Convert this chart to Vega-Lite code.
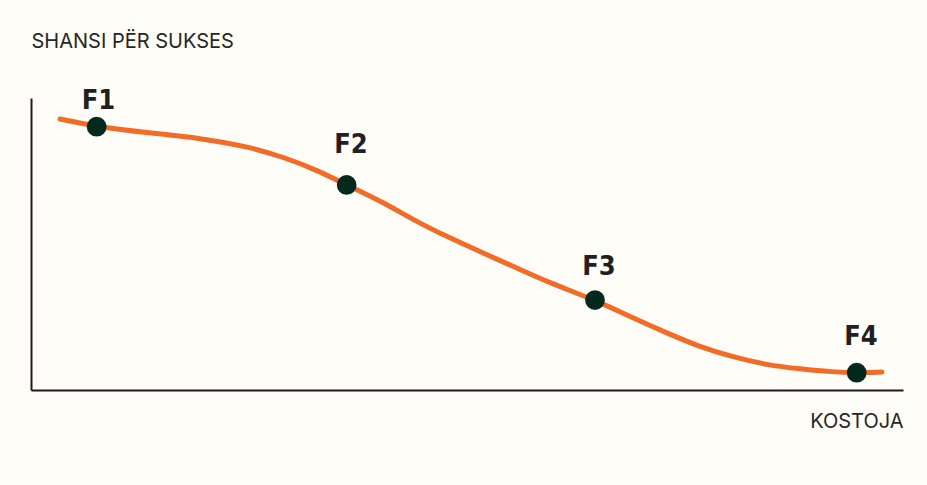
{
  "$schema": "https://vega.github.io/schema/vega-lite/v6.json",
  "width": 872,
  "height": 292,
  "autosize": {"type": "none"},
  "padding": {"left": 31, "top": 98, "right": 24, "bottom": 95},
  "background": "#fefdf8",
  "config": {
    "view": {"stroke": null},
    "axis": {
      "domain": true,
      "domainColor": "#1c1c1c",
      "domainWidth": 2,
      "ticks": false,
      "labels": false,
      "grid": false,
      "titleFont": "Inter",
      "titleFontSize": 20,
      "titleFontWeight": "normal",
      "titleColor": "#262626",
      "titleBaseline": "alphabetic"
    }
  },
  "datasets": {
    "curve": [
      {"cost": 3.33, "chance": 92.81},
      {"cost": 7.53, "chance": 90.17},
      {"cost": 13.65, "chance": 88.01},
      {"cost": 19.38, "chance": 86.3},
      {"cost": 25.11, "chance": 83.22},
      {"cost": 28.9, "chance": 79.79},
      {"cost": 32.8, "chance": 75.34},
      {"cost": 36.2, "chance": 70.21},
      {"cost": 40.37, "chance": 64.38},
      {"cost": 44.27, "chance": 57.53},
      {"cost": 48.05, "chance": 52.05},
      {"cost": 51.83, "chance": 46.92},
      {"cost": 55.73, "chance": 41.78},
      {"cost": 59.52, "chance": 36.64},
      {"cost": 64.68, "chance": 30.82},
      {"cost": 69.04, "chance": 24.66},
      {"cost": 72.94, "chance": 19.52},
      {"cost": 76.72, "chance": 14.73},
      {"cost": 80.5, "chance": 11.3},
      {"cost": 84.4, "chance": 8.56},
      {"cost": 88.19, "chance": 7.19},
      {"cost": 91.97, "chance": 6.16},
      {"cost": 94.69, "chance": 5.92},
      {"cost": 97.59, "chance": 6.16}
    ],
    "points": [
      {"name": "F1", "cost": 7.53, "chance": 90.17, "label_cost": 7.74, "label_chance": 96.23},
      {"name": "F2", "cost": 36.2, "chance": 70.21, "label_cost": 36.7, "label_chance": 81.16},
      {"name": "F3", "cost": 64.68, "chance": 30.82, "label_cost": 65.14, "label_chance": 39.38},
      {"name": "F4", "cost": 94.69, "chance": 5.92, "label_cost": 95.18, "label_chance": 15.41}
    ]
  },
  "layer": [
    {
      "data": {"name": "curve"},
      "mark": {"type": "line", "color": "#f26b27", "strokeWidth": 5, "interpolate": "basis", "strokeCap": "round"},
      "encoding": {
        "x": {
          "field": "cost", "type": "quantitative",
          "scale": {"domain": [0, 100], "nice": false, "zero": false},
          "axis": {"title": "KOSTOJA", "titleAlign": "right", "titleX": 872, "titleY": 37, "titleAnchor": null}
        },
        "y": {
          "field": "chance", "type": "quantitative",
          "scale": {"domain": [0, 100], "nice": false, "zero": false},
          "axis": {"title": "SHANSI PËR SUKSES", "titleAngle": 0, "titleAlign": "left", "titleX": 0, "titleY": -51}
        }
      }
    },
    {
      "data": {"name": "points"},
      "mark": {"type": "circle", "size": 390, "opacity": 1, "color": "#03291f"},
      "encoding": {
        "x": {"field": "cost", "type": "quantitative"},
        "y": {"field": "chance", "type": "quantitative"}
      }
    },
    {
      "data": {"name": "points"},
      "mark": {"type": "text", "font": "DejaVu Sans Condensed, DejaVu Sans, sans-serif", "fontSize": 27, "fontWeight": "bold", "baseline": "alphabetic", "align": "center", "color": "#231f20"},
      "encoding": {
        "x": {"field": "label_cost", "type": "quantitative"},
        "y": {"field": "label_chance", "type": "quantitative"},
        "text": {"field": "name"}
      }
    }
  ]
}
